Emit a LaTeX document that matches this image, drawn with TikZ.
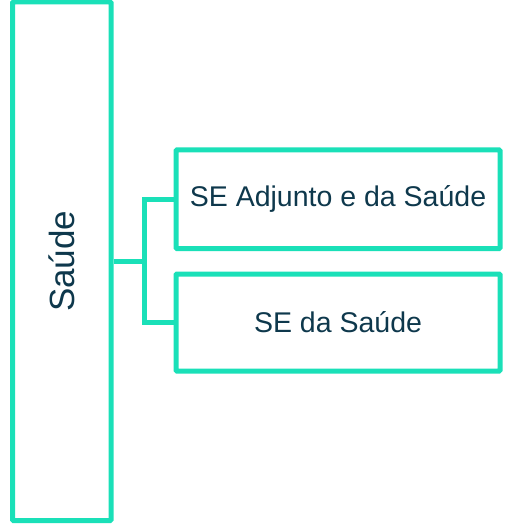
\documentclass[tikz,border=0pt]{standalone}
\usepackage{fontspec}
\setmainfont{Liberation Sans}
\usetikzlibrary{positioning}
\definecolor{verde}{RGB}{26,224,184}
\definecolor{marinho}{RGB}{14,56,76}

\begin{document}
\begin{tikzpicture}[x=1pt,y=-1pt,
    caixa/.style={draw=verde,line width=5pt,rounded corners=1pt,inner sep=0pt,text=marinho,font=\fontsize{28.5}{34}\selectfont},
    liga/.style={draw=verde,line width=5pt}]
            \useasboundingbox (0,0) rectangle (514,526);
            \node[caixa,minimum width=98.5pt,minimum height=518.5pt,font=\fontsize{35}{40}\selectfont] (saude) at (61.75,261.25) {\rotatebox{90}{Saúde}};
            \node[caixa,minimum width=324pt,minimum height=98.5pt] (adjunto) at (338,199.25) {SE Adjunto e da Saúde};
            \node[caixa,minimum width=324pt,minimum height=97pt] (se) at (338,322.5) {SE da Saúde};
            \coordinate (j) at (144,261.25);

            \draw[liga] (saude.east) -- (j);
            \draw[liga] (adjunto.west) -| (j) |- (se.west);
        \end{tikzpicture}
\end{document}
